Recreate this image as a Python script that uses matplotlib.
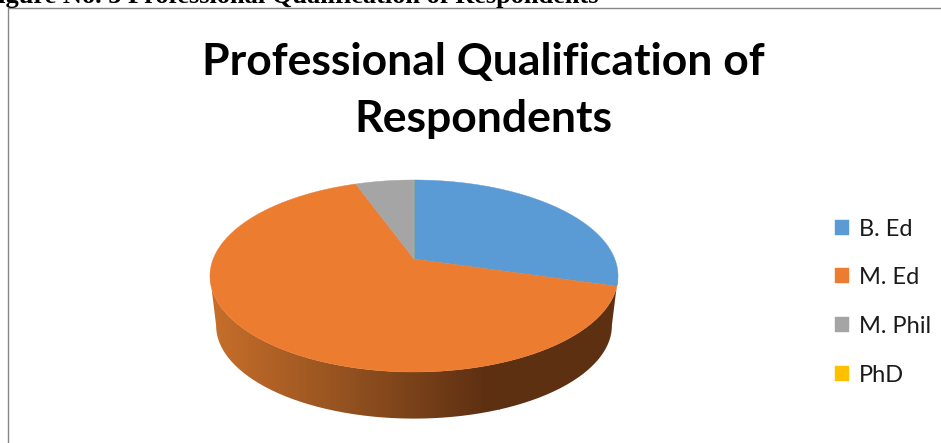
#!/usr/bin/env python3
"""Tilted pie of professional qualification, with a shaded side wall."""

import matplotlib

matplotlib.use("Agg")
import matplotlib.pyplot as plt
import numpy as np
from matplotlib.colors import LinearSegmentedColormap
from matplotlib.patches import PathPatch, Polygon
from matplotlib.path import Path

categories = ["B. Ed", "M. Ed", "M. Phil", "PhD"]
shares = [29.5, 65, 5.5, 0]
colors = ["#5B9BD5", "#EB7C30", "#A5A5A5", "#FFC000"]
chart_title = "Professional Qualification of\nRespondents"
caption = "Figure No. 3 Professional Qualification of Respondents"

# pie geometry, in pixels of the 941x443 picture
CX, APEX_Y = 414, 259
TILT = 0.177
SCALE_X, SCALE_Y = 200.8, 93.0
DEPTH = 50


def project(theta, shrink=1.0, drop=0.0):
    """Unit circle angle (radians) to picture coords, near edge looks bigger."""
    u, v = np.cos(theta), np.sin(theta)
    d = 1 + TILT * v
    return CX + shrink * SCALE_X * u / d, APEX_Y + drop - shrink * SCALE_Y * v / d


fig = plt.figure(figsize=(9.41, 4.43), dpi=100)
ax = fig.add_axes([0, 0, 1, 1])
ax.set_xlim(0, 941)
ax.set_ylim(443, 0)
ax.axis("off")

# frame of the pasted chart, only top and left are visible
ax.plot([941, 8.5, 8.5], [7.5, 7.5, 443], color="#868686", linewidth=1.0)

ax.text(-18, 3, caption, family="Liberation Serif", fontweight="bold",
        fontsize=19, color="black", va="baseline", ha="left")

# side wall: gradient clipped to the band between the top and bottom rims
front = np.radians(np.linspace(190, 350, 200))
tx, ty = project(front)
bx, by = project(front, shrink=0.97, drop=DEPTH)
wall = Path(np.column_stack([np.r_[tx, bx[::-1]], np.r_[ty, by[::-1]]]))
wall_cmap = LinearSegmentedColormap.from_list(
    "wall", [(0, "#C96F2B"), (0.5, "#90501F"), (0.95, "#5E3012"), (1, "#5E3012")]
)
img = ax.imshow(np.linspace(0, 1, 256).reshape(1, -1), cmap=wall_cmap,
                extent=(208, 500, 443, 0), aspect="auto", zorder=2)
# right of the gradient the wall stays dark
img2 = ax.imshow([[1.0]], cmap=wall_cmap, vmin=0, vmax=1,
                 extent=(499, 620, 443, 0), aspect="auto", zorder=2)
clip = PathPatch(wall, transform=ax.transData, facecolor="none", edgecolor="none")
ax.add_patch(clip)
img.set_clip_path(clip)
img2.set_clip_path(clip)
ax.set_xlim(0, 941)
ax.set_ylim(443, 0)

# top face
handles = []
cum = 0
total = sum(shares)
for name, val, col in zip(categories, shares, colors):
    a0 = np.pi / 2 - 2 * np.pi * cum / total
    a1 = np.pi / 2 - 2 * np.pi * (cum + val) / total
    th = np.linspace(a0, a1, 160)
    x, y = project(th)
    pts = np.column_stack([np.r_[CX, x], np.r_[APEX_Y, y]])
    p = Polygon(pts, closed=True, facecolor=col, edgecolor=col, linewidth=0.3,
                zorder=3, label=name)
    ax.add_patch(p)
    handles.append(p)
    cum += val

ax.text(483, 90.5, chart_title, family="Lato", fontweight="bold", fontsize=32,
        color="black", ha="center", va="center", linespacing=1.5)

leg = ax.legend(handles=handles, loc="center left", bbox_to_anchor=(0.887, 0.318),
                frameon=False, prop={"family": "Lato", "size": 17},
                handlelength=0.6, handleheight=0.6, handletextpad=0.42,
                labelspacing=1.17, borderpad=0, borderaxespad=0)
for t in leg.get_texts():
    t.set_color("#1a1a1a")

fig.savefig("out.png", dpi=100)
